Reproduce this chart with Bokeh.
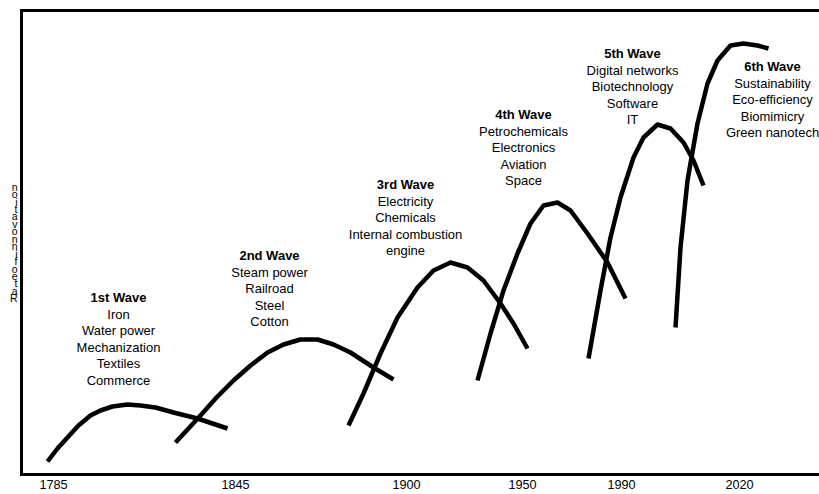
from bokeh.plotting import figure
from bokeh.models import Range1d, FixedTicker, LinearAxis, ColumnDataSource
from bokeh.core.properties import value
from bokeh.embed import file_html
from bokeh.resources import INLINE

# ---- data (x: position along the timeline, y: rate of innovation, arbitrary units)
wave1_x = [47, 57, 67, 78, 90, 100, 112, 127, 140, 155, 173, 197, 212, 227]
wave1_y = [13, 26, 37, 49, 59, 64, 68, 70, 69, 67, 62, 56, 51, 46]
wave2_x = [175, 188, 200, 216, 233, 250, 267, 283, 300, 317, 333, 350, 373, 393]
wave2_y = [32, 46, 59, 77, 94, 109, 122, 130, 135, 135, 130, 122, 107, 95]
wave3_x = [348, 363, 380, 397, 417, 433, 450, 467, 483, 500, 513, 527]
wave3_y = [49, 81, 121, 157, 187, 204, 212, 207, 194, 171, 151, 126]
wave4_x = [477, 490, 503, 517, 530, 543, 557, 570, 587, 607, 625]
wave4_y = [94, 141, 184, 221, 251, 269, 272, 264, 241, 212, 176]
wave5_x = [588, 600, 610, 620, 633, 643, 657, 670, 683, 693, 703]
wave5_y = [116, 184, 237, 277, 317, 337, 350, 346, 332, 314, 289]
wave6_x = [675, 680, 687, 697, 707, 717, 730, 743, 757, 768]
wave6_y = [147, 227, 294, 351, 391, 414, 429, 431, 429, 426]

wave_titles = ["1st Wave", "2nd Wave", "3rd Wave", "4th Wave", "5th Wave", "6th Wave"]
wave_items = [
    ["Iron", "Water power", "Mechanization", "Textiles", "Commerce"],
    ["Steam power", "Railroad", "Steel", "Cotton"],
    ["Electricity", "Chemicals", "Internal combustion", "engine"],
    ["Petrochemicals", "Electronics", "Aviation", "Space"],
    ["Digital networks", "Biotechnology", "Software", "IT"],
    ["Sustainability", "Eco-efficiency", "Biomimicry", "Green nanotech"],
]

tick_positions = [53, 235, 406, 522, 621, 739]
tick_labels = ["1785", "1845", "1900", "1950", "1990", "2020"]

y_title = "Rate of innovation"

# ---- layout (label anchors)
label_x = [118, 269, 405, 523, 632, 772]
label_y = [177, 219, 290, 360, 421, 408]
line_step = 16.5

FONT = "Liberation Sans"

p = figure(frame_width=798, frame_height=464, output_backend="svg", toolbar_location=None,
           x_range=Range1d(21, 819), y_range=Range1d(0, 464),
           min_border_left=21, min_border_right=0, min_border_top=10, min_border_bottom=0)
p.outline_line_color = None
p.xgrid.visible = False
p.ygrid.visible = False
p.background_fill_color = "white"
p.border_fill_color = "white"

# bottom axis
xa = p.xaxis[0]
xa.ticker = FixedTicker(ticks=tick_positions)
xa.major_label_overrides = {t: l for t, l in zip(tick_positions, tick_labels)}
xa.major_tick_out = 0
xa.major_tick_in = 0
xa.minor_tick_out = 0
xa.minor_tick_in = 0
xa.axis_line_width = 3
xa.axis_line_cap = "square"
xa.major_label_standoff = 5
xa.major_label_text_font = FONT
xa.major_label_text_font_size = "12.7px"
xa.major_label_text_color = "black"

def style_blank(ax):
    ax.ticker = FixedTicker(ticks=[])
    ax.major_tick_out = 0
    ax.major_tick_in = 0
    ax.minor_tick_out = 0
    ax.minor_tick_in = 0
    ax.axis_line_width = 3
    ax.axis_line_cap = "square"
    ax.major_label_text_font_size = "0px"
    ax.major_label_standoff = 0

ya = p.yaxis[0]
style_blank(ya)
# stacked (upright, letter-over-letter) y-axis title
ya.axis_label = "\n".join(reversed([c for c in y_title if c != " "]))
ya.axis_label_orientation = "horizontal"
ya.axis_label_standoff = 4
ya.axis_label_text_font = FONT
ya.axis_label_text_font_size = "10.5px"
ya.axis_label_text_font_style = "normal"
ya.axis_label_text_line_height = 0.62
ya.axis_label_text_color = "black"
ya.axis_label_text_align = "center"

top = LinearAxis()
style_blank(top)
p.add_layout(top, "above")

# curves
xs = [wave1_x, wave2_x, wave3_x, wave4_x, wave5_x, wave6_x]
ys = [wave1_y, wave2_y, wave3_y, wave4_y, wave5_y, wave6_y]
p.multi_line(xs=xs, ys=ys, line_color="black", line_width=4.5,
             line_cap="butt", line_join="round")

# wave labels
tsrc = ColumnDataSource(dict(x=label_x, y=label_y, text=wave_titles))
p.text(x="x", y="y", text="text", source=tsrc, text_align="center",
       text_baseline="middle", text_font=value(FONT), text_font_size="13px",
       text_font_style="bold", text_color="black")

bx, by, bt = [], [], []
for i, items in enumerate(wave_items):
    for j, it in enumerate(items):
        bx.append(label_x[i])
        by.append(label_y[i] - (j + 1) * line_step)
        bt.append(it)
bsrc = ColumnDataSource(dict(x=bx, y=by, text=bt))
p.text(x="x", y="y", text="text", source=bsrc, text_align="center",
       text_baseline="middle", text_font=value(FONT), text_font_size="13px",
       text_color="black")

open("out.html", "w").write(file_html(p, INLINE))
